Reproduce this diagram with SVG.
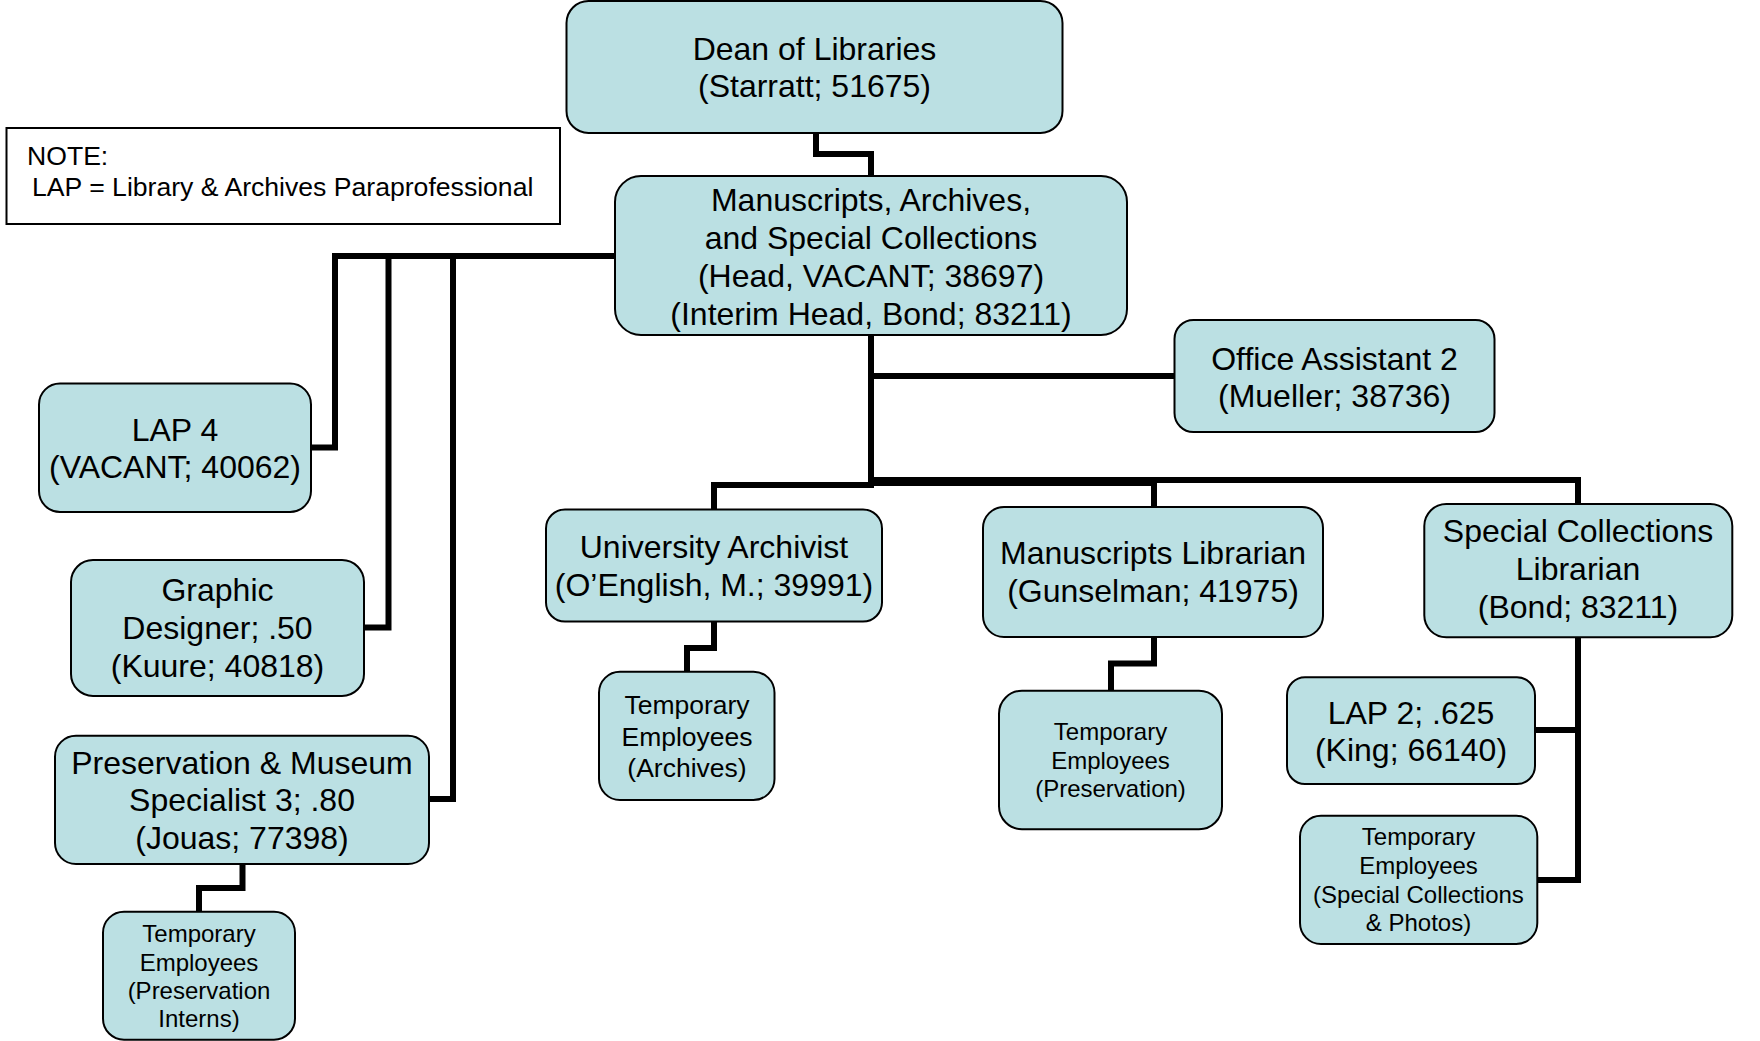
<svg xmlns="http://www.w3.org/2000/svg" width="1760" height="1041" viewBox="0 0 1760 1041">
<style>
.box{fill:#BBE0E3;stroke:#000;stroke-width:2}
.t{font-family:"Liberation Sans",Arial,sans-serif;font-size:32px;fill:#000;text-anchor:middle}
.s{font-size:24px}
.m{font-size:26.5px}
.c{fill:none;stroke:#000;stroke-width:6;stroke-linejoin:miter;stroke-linecap:butt}
.n{font-family:"Liberation Sans",Arial,sans-serif;font-size:26.6px;fill:#000}
</style>
<rect width="1760" height="1041" fill="#fff"/>
<g id="connectors">
<path class="c" d="M816,133 V154 H871 V176"/>
<path class="c" d="M615,256 H335 V447.5 H311"/>
<path class="c" d="M615,256 H388.5 V627.5 H364"/>
<path class="c" d="M615,256 H453 V799 H429"/>
<path class="c" d="M871,335 V376 H1174"/>
<path class="c" d="M871,335 V480 H1578 V504"/>
<path class="c" d="M871,480 V483 H1154 V507"/>
<path class="c" d="M871,480 V485 H714 V509"/>
<path class="c" d="M242.5,864 V888 H199 V912"/>
<path class="c" d="M714,621 V648 H687 V672"/>
<path class="c" d="M1154,637 V663.5 H1111 V691"/>
<path class="c" d="M1578,637 V880 H1537"/>
<path class="c" d="M1578,730 H1535"/>
</g>
<g id="note">
<rect x="6.5" y="128" width="553.5" height="96" fill="#fff" stroke="#000" stroke-width="2"/>
<text class="n" x="27" y="165">NOTE:</text>
<text class="n" x="32" y="195.5">LAP = Library &amp; Archives Paraprofessional</text>
</g>
<g id="dean">
<rect class="box" x="566.5" y="1" width="496" height="132" rx="22"/>
<text class="t" x="814.5" y="60">Dean of Libraries</text>
<text class="t" x="814.5" y="97">(Starratt; 51675)</text>
</g>
<g id="masc">
<rect class="box" x="615" y="176" width="512" height="159" rx="26"/>
<text class="t" x="871" y="211">Manuscripts, Archives,</text>
<text class="t" x="871" y="249">and Special Collections</text>
<text class="t" x="871" y="287">(Head, VACANT; 38697)</text>
<text class="t" x="871" y="325">(Interim Head, Bond; 83211)</text>
</g>
<g id="office">
<rect class="box" x="1174.5" y="320" width="320" height="112" rx="19"/>
<text class="t" x="1334.5" y="369.5">Office Assistant 2</text>
<text class="t" x="1334.5" y="407">(Mueller; 38736)</text>
</g>
<g id="lap4">
<rect class="box" x="39" y="383.5" width="272" height="128.5" rx="21"/>
<text class="t" x="175" y="441">LAP 4</text>
<text class="t" x="175" y="478">(VACANT; 40062)</text>
</g>
<g id="graphic">
<rect class="box" x="71" y="560" width="293" height="136" rx="22"/>
<text class="t" x="217.5" y="601">Graphic</text>
<text class="t" x="217.5" y="638.5">Designer; .50</text>
<text class="t" x="217.5" y="676.5">(Kuure; 40818)</text>
</g>
<g id="preservation">
<rect class="box" x="55" y="735.7" width="374" height="128.3" rx="21"/>
<text class="t" x="242" y="773.5">Preservation &amp; Museum</text>
<text class="t" x="242" y="811">Specialist 3; .80</text>
<text class="t" x="242" y="849">(Jouas; 77398)</text>
</g>
<g id="temp-interns">
<rect class="box" x="103" y="911.7" width="192" height="128" rx="21"/>
<text class="t s" x="199" y="942">Temporary</text>
<text class="t s" x="199" y="970.5">Employees</text>
<text class="t s" x="199" y="999">(Preservation</text>
<text class="t s" x="199" y="1027">Interns)</text>
</g>
<g id="univ-archivist">
<rect class="box" x="546" y="509.5" width="336" height="112" rx="19"/>
<text class="t" x="714" y="557.5">University Archivist</text>
<text class="t" x="714" y="596">(O’English, M.; 39991)</text>
</g>
<g id="temp-archives">
<rect class="box" x="599" y="671.7" width="175.5" height="128.3" rx="21"/>
<text class="t m" x="687" y="713.5">Temporary</text>
<text class="t m" x="687" y="745.5">Employees</text>
<text class="t m" x="687" y="776.5">(Archives)</text>
</g>
<g id="manuscripts-librarian">
<rect class="box" x="983" y="507" width="340" height="130" rx="21"/>
<text class="t" x="1153" y="563.5">Manuscripts Librarian</text>
<text class="t" x="1153" y="601.5">(Gunselman; 41975)</text>
</g>
<g id="temp-preservation">
<rect class="box" x="999" y="690.7" width="223" height="138.6" rx="23"/>
<text class="t s" x="1110.5" y="740">Temporary</text>
<text class="t s" x="1110.5" y="768.5">Employees</text>
<text class="t s" x="1110.5" y="797">(Preservation)</text>
</g>
<g id="special-collections">
<rect class="box" x="1424.3" y="504" width="308" height="133.3" rx="22"/>
<text class="t" x="1578" y="542">Special Collections</text>
<text class="t" x="1578" y="580">Librarian</text>
<text class="t" x="1578" y="618">(Bond; 83211)</text>
</g>
<g id="lap2">
<rect class="box" x="1287" y="677.3" width="248" height="106.7" rx="18"/>
<text class="t" x="1411" y="723.5">LAP 2; .625</text>
<text class="t" x="1411" y="761">(King; 66140)</text>
</g>
<g id="temp-sc">
<rect class="box" x="1300" y="815.7" width="237.3" height="128.3" rx="21"/>
<text class="t s" x="1418.5" y="845">Temporary</text>
<text class="t s" x="1418.5" y="874">Employees</text>
<text class="t s" x="1418.5" y="903">(Special Collections</text>
<text class="t s" x="1418.5" y="931">&amp; Photos)</text>
</g>
</svg>
